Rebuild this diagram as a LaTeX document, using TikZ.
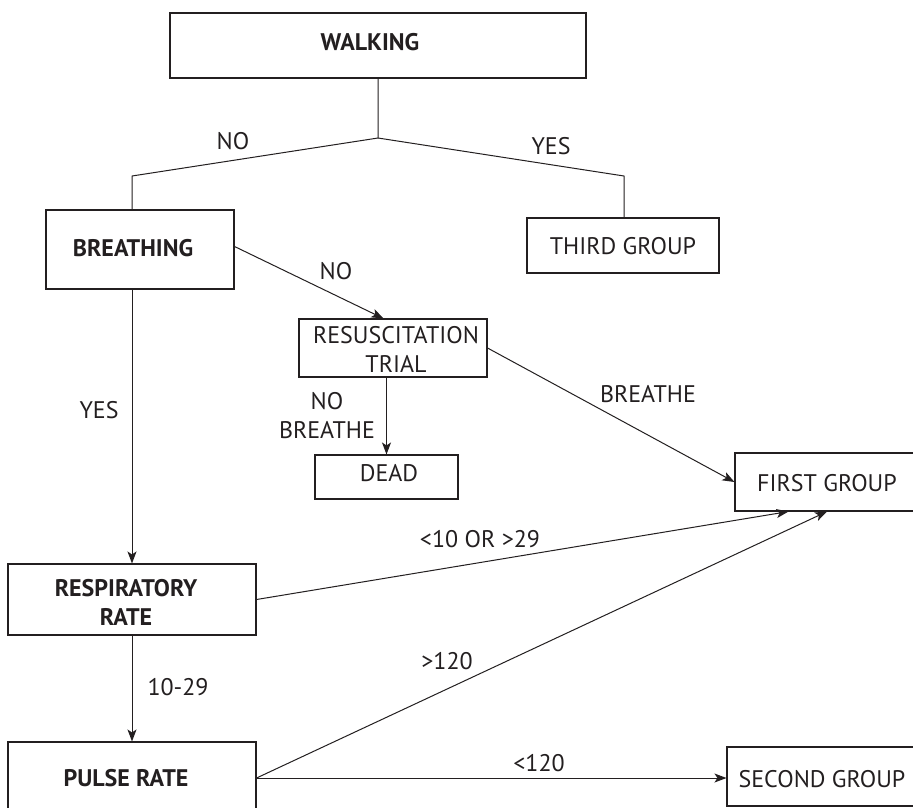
\documentclass[tikz,border=0pt]{standalone}
\usepackage{fontspec}
\setmainfont{PT Sans}
\usetikzlibrary{arrows.meta}
\definecolor{ink}{HTML}{231F20}
\tikzset{
  box/.style={draw=ink, line width=1.1pt, inner sep=0pt, rectangle},
  txt/.style={text=ink, inner sep=0pt, font=\fontsize{24}{29}\selectfont, align=center},
  btxt/.style={txt, font=\fontsize{24}{29}\selectfont\bfseries},
  conn/.style={draw=ink, line width=1pt},
  arr/.style={conn, -{Stealth[length=12pt,width=9pt,inset=3pt]}}
}
\begin{document}
\begin{tikzpicture}[x=1pt,y=-1pt]
\clip (0,0) rectangle (913,807);
\fill[white] (0,0) rectangle (913,807);

% boxes
\node[box, minimum width=416pt, minimum height=65pt] (walk) at (378,45.5) {};
\node[btxt] (walkt) at (370,42) {WALKING};
\node[box, minimum width=188pt, minimum height=79pt] (breath) at (140,249.5) {};
\node[btxt] (breatht) at (133,248) {BREATHING};
\node[box, minimum width=192pt, minimum height=55pt] (third) at (623,245.5) {};
\node[txt] (thirdt) at (623,246) {THIRD GROUP};
\node[box, minimum width=188pt, minimum height=58pt] (resus) at (393,348) {};
\node[txt] (resust) at (396,349) {RESUSCITATION\\TRIAL};
\node[box, minimum width=143pt, minimum height=44pt] (dead) at (386.5,477) {};
\node[txt] (deadt) at (389,473) {DEAD};
\node[box, minimum width=184pt, minimum height=58pt] (first) at (827,482) {};
\node[txt] (firstt) at (827,483) {FIRST GROUP};
\node[box, minimum width=248pt, minimum height=71pt] (resp) at (132,599.5) {};
\node[btxt] (respt) at (126,602.5) {RESPIRATORY\\RATE};
\node[box, minimum width=248pt, minimum height=72pt] (pulse) at (132,778) {};
\node[btxt] (pulset) at (126,778) {PULSE RATE};
\node[box, minimum width=190pt, minimum height=59pt] (second) at (822,776.5) {};
\node[txt] (secondt) at (822,779) {SECOND GROUP};

% connectors
\coordinate (fork) at (378,138);
\coordinate (forkL) at (132,176);
\coordinate (forkR) at (624,176);
\draw[conn] (walk.south) -- (fork) -- (forkL) -- (forkL |- breath.north);
\draw[conn] (fork) -- (forkR) -- (forkR |- third.north);
\draw[arr] ([yshift=3pt]breath.east) -- ([xshift=85pt]resus.north west);
\draw[arr] (resus.east) -- (first.west);
\draw[arr] (resus.south -| dead.north) -- (dead.north);
\draw[arr] (breath.south -| resp.north) -- (resp.north);
\draw[arr] (resp.east) -- ([xshift=54pt]first.south west);
\draw[arr] (resp.south) -- (pulse.north);
\draw[arr] (pulse.east) -- (first.south);
\draw[arr] (pulse.east) -- (pulse.east -| second.west);

% labels
\node[txt] (l1) at (233,141) {NO};
\node[txt] (l2) at (551,146) {YES};
\node[txt] (l3) at (336,271) {NO};
\node[txt] (l4) at (648,394) {BREATHE};
\node[txt] (l5) at (327,415.5) {NO\\BREATHE};
\node[txt] (l6) at (99,410) {YES};
\node[txt] (l7) at (480,539) {<10 OR >29};
\node[txt] (l8) at (447,661) {>120};
\node[txt] (l9) at (178,687) {10-29};
\node[txt] (l10) at (539,763) {<120};
\end{tikzpicture}
\end{document}
